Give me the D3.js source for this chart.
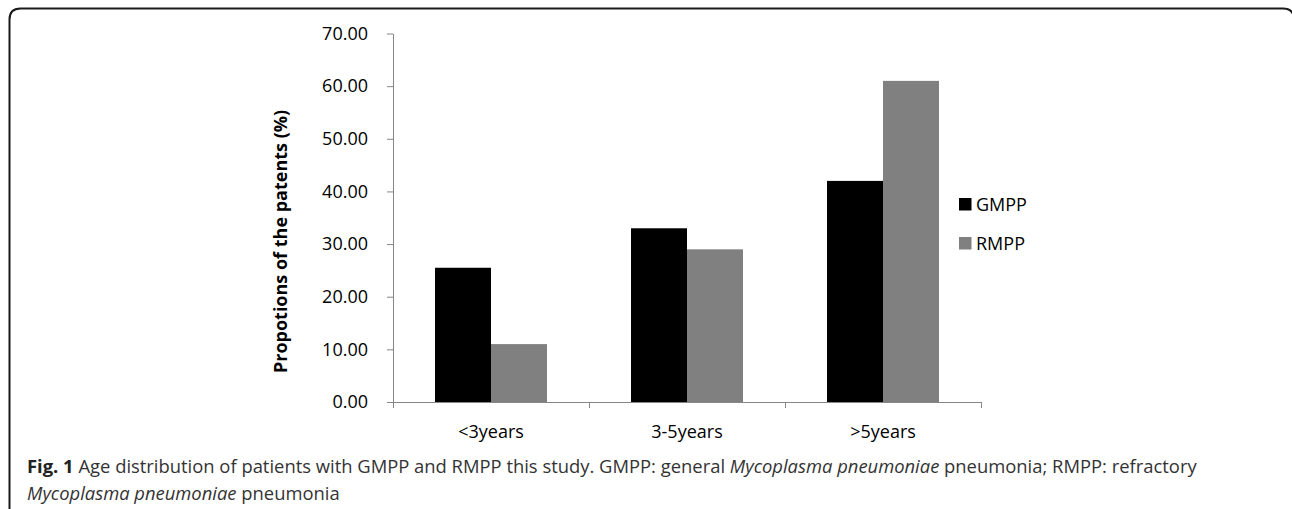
<!DOCTYPE html>
<html>
<head>
<meta charset="utf-8">
<script src="https://cdn.jsdelivr.net/npm/d3@7"></script>
<style>
  html, body { margin: 0; padding: 0; background: #fff; }
  svg { display: block; }
</style>
</head>
<body>
<svg id="chart" width="1292" height="509"></svg>
<script>
// Age groups and proportions (%) for each patient group
const categories = ["<3years", "3-5years", ">5years"];
const seriesNames = ["GMPP", "RMPP"];
const gmppValues = [25.5, 33.0, 42.0];
const rmppValues = [11.0, 29.0, 61.0];
const yTicks = [0, 10, 20, 30, 40, 50, 60, 70];
const seriesColors = ["#000000", "#808080"];

const svg = d3.select("#chart");
const chartFont = "'Open Sans', 'Noto Sans', sans-serif";
const captionFont = "'Open Sans', 'Noto Sans', sans-serif";

// Panel frame with rounded top corners (right edge runs just past the page)
const fx0 = 9.5, fy0 = 8.5, fx1 = 1294, r = 11;
svg.append("path")
  .attr("d", `M${fx0},509 L${fx0},${fy0 + r} Q${fx0},${fy0} ${fx0 + r},${fy0} L${fx1 - r},${fy0} Q${fx1},${fy0} ${fx1},${fy0 + r} L${fx1},509`)
  .attr("fill", "none")
  .attr("stroke", "#1a1a1a")
  .attr("stroke-width", 2);

// Scales
const plotLeft = 393, plotRight = 981, plotTop = 33.5, plotBottom = 402;
const y = d3.scaleLinear().domain([0, 70]).range([plotBottom, plotTop]);
const xGroup = d3.scaleBand().domain(categories).range([plotLeft, plotRight]).padding(0);
const xBars = d3.scaleBand().domain(categories).range([plotLeft, plotRight])
  .paddingInner(84 / 196).paddingOuter(42 / 196);
const xSeries = d3.scaleBand().domain(seriesNames).range([0, xBars.bandwidth()]).padding(0);

const axisColor = "#868686";

// Y axis
const yAxis = svg.append("g")
  .attr("transform", `translate(${plotLeft},0)`)
  .call(d3.axisLeft(y).tickValues(yTicks).tickFormat(d3.format(".2f")).tickSize(6).tickSizeOuter(0).tickPadding(19));
yAxis.select(".domain").attr("stroke", axisColor).attr("stroke-width", 1);
yAxis.selectAll(".tick line").attr("stroke", axisColor);
yAxis.selectAll(".tick text")
  .attr("font-family", chartFont).attr("font-size", 18).attr("fill", "#000");

// Bars
const rows = categories.map((c, i) => ({ category: c, values: [gmppValues[i], rmppValues[i]] }));
const groups = svg.append("g").selectAll("g").data(rows).join("g")
  .attr("transform", d => `translate(${xBars(d.category)},0)`);
groups.selectAll("rect")
  .data(d => d.values.map((v, j) => ({ name: seriesNames[j], value: v, color: seriesColors[j] })))
  .join("rect")
  .attr("x", d => xSeries(d.name))
  .attr("y", d => y(d.value))
  .attr("width", xSeries.bandwidth())
  .attr("height", d => y(0) - y(d.value))
  .attr("fill", d => d.color);

// X axis: baseline, boundary ticks and centred category labels
const xAxis = svg.append("g").attr("transform", `translate(0,${plotBottom})`);
xAxis.append("line")
  .attr("x1", plotLeft).attr("x2", plotRight).attr("y1", 0.5).attr("y2", 0.5)
  .attr("stroke", axisColor);
const boundaries = categories.map(c => xGroup(c)).concat([xGroup.range()[1]]);
xAxis.selectAll(".bt").data(boundaries).join("line")
  .attr("class", "bt")
  .attr("x1", d => Math.round(d) + 0.5).attr("x2", d => Math.round(d) + 0.5)
  .attr("y1", 0).attr("y2", 6)
  .attr("stroke", axisColor);
xAxis.selectAll(".cl").data(categories).join("text")
  .attr("class", "cl")
  .attr("x", d => xGroup(d) + xGroup.bandwidth() / 2)
  .attr("y", 36)
  .attr("text-anchor", "middle")
  .attr("font-family", chartFont).attr("font-size", 18).attr("fill", "#000")
  .text(d => d);

// Y axis title
svg.append("text")
  .attr("transform", `translate(287,241.5) rotate(-90)`)
  .attr("text-anchor", "middle")
  .attr("font-family", chartFont).attr("font-size", 18).attr("font-weight", "bold")
  .attr("fill", "#000")
  .text("Propotions of the patents (%)");

// Legend
const legend = svg.append("g").selectAll("g").data(seriesNames).join("g")
  .attr("transform", (d, i) => `translate(959,${198 + i * 39})`);
legend.append("rect")
  .attr("width", 12.5).attr("height", 12.5)
  .attr("fill", (d, i) => seriesColors[i]);
legend.append("text")
  .attr("x", 17).attr("y", 13)
  .attr("font-family", chartFont).attr("font-size", 18).attr("fill", "#000")
  .text(d => d);

// Figure caption
const caption = svg.append("text")
  .attr("font-family", captionFont).attr("font-size", 18.4).attr("fill", "#333");
const line1 = caption.append("tspan").attr("x", 27).attr("y", 473);
line1.append("tspan").attr("font-weight", "bold").attr("fill", "#222").text("Fig. 1");
line1.append("tspan").text(" Age distribution of patients with GMPP and RMPP this study. GMPP: general ");
line1.append("tspan").attr("font-style", "italic").text("Mycoplasma pneumoniae");
line1.append("tspan").text(" pneumonia; RMPP: refractory");
const line2 = caption.append("tspan").attr("x", 27).attr("y", 500);
line2.append("tspan").attr("font-style", "italic").text("Mycoplasma pneumoniae");
line2.append("tspan").text(" pneumonia");
</script>
</body>
</html>
